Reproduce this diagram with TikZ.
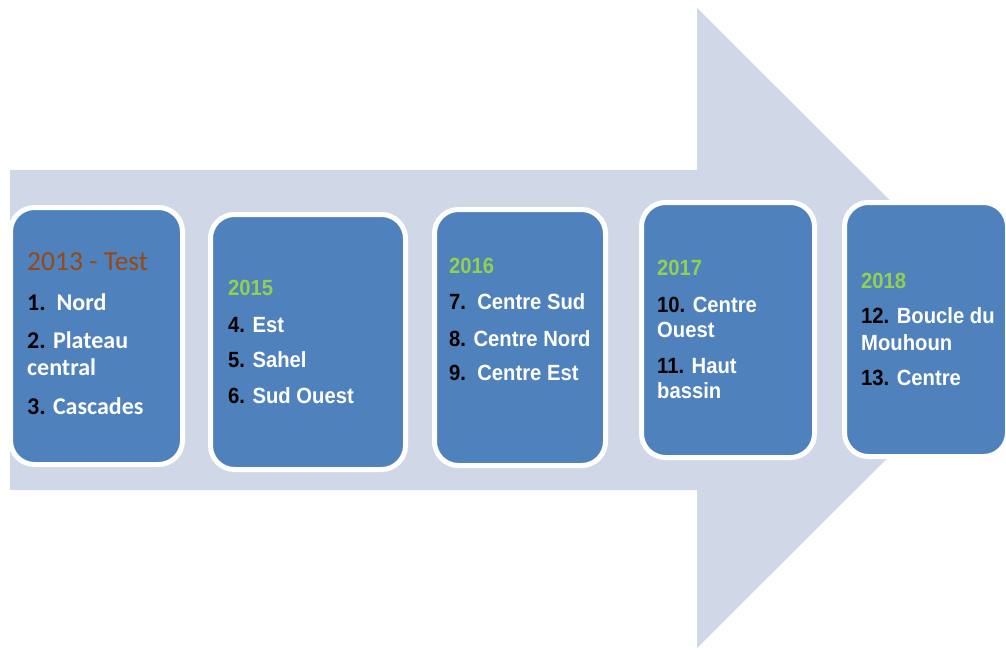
\documentclass[tikz,border=0pt]{standalone}
\usepackage{fontspec}
\newfontfamily\calfont{Carlito}
\newfontfamily\arfont[FakeStretch=0.92]{Liberation Sans}
\definecolor{arrowfill}{RGB}{208,216,232}
\definecolor{stageblue}{RGB}{79,129,189}
\definecolor{yeargreen}{RGB}{146,208,80}
\definecolor{testbrown}{RGB}{152,72,16}

\begin{document}
\begin{tikzpicture}
	[x=1pt, y=-1pt,
	stage/.style={rectangle, rounded corners=24pt, draw=white, line width=5pt, fill=stageblue, inner sep=0pt},
	item/.style={anchor=base west, inner sep=0pt, text=white, font=\arfont\bfseries\fontsize{22}{26}\selectfont},
	year/.style={item, text=yeargreen},
	firstItem/.style={item, font=\calfont\bfseries\fontsize{24}{28}\selectfont}]
	
	\useasboundingbox (0,0) rectangle (1006,649);
	\clip (0,0) rectangle (1006,649);
	
	% big arrow behind the stages
	\fill[arrowfill] (10,170) -- (697,170) -- (697,8) -- (1018,328) -- (697,648) -- (697,490) -- (10,490) -- cycle;
	
	% first stage 2013
	\node (s1) at ( 96.5,336 ) [stage, minimum width=172pt, minimum height=257pt] {};
	\node (t1a) at ( 27,270 ) [item, text=testbrown, font=\calfont\fontsize{27.5}{32}\selectfont] {2013 - Test};
	\node (t1b) at ( 27,310 ) [firstItem] {\textcolor{black}{1.}~~Nord};
	\node (t1c) at ( 27,348 ) [firstItem] {\textcolor{black}{2.} Plateau};
	\node (t1d) at ( 27,375 ) [firstItem] {central};
	\node (t1e) at ( 27,414 ) [firstItem] {\textcolor{black}{3.} Cascades};
	
	% second stage 2015
	\node (s2) at ( 308,342 ) [stage, minimum width=195pt, minimum height=255pt] {};
	\node (t2a) at ( 228,295 ) [year] {2015};
	\node (t2b) at ( 228,332 ) [item] {\textcolor{black}{4.} Est};
	\node (t2c) at ( 228,367 ) [item] {\textcolor{black}{5.} Sahel};
	\node (t2d) at ( 228,403 ) [item] {\textcolor{black}{6.} Sud Ouest};
	
	% third stage 2016
	\node (s3) at ( 520,337.5 ) [stage, minimum width=171pt, minimum height=256pt] {};
	\node (t3a) at ( 449,273 ) [year] {2016};
	\node (t3b) at ( 449,309 ) [item] {\textcolor{black}{7.}~~Centre Sud};
	\node (t3c) at ( 449,346 ) [item] {\textcolor{black}{8.} Centre Nord};
	\node (t3d) at ( 449,380 ) [item] {\textcolor{black}{9.}~~Centre Est};
	
	% fourth stage 2017
	\node (s4) at ( 728,330 ) [stage, minimum width=173pt, minimum height=255pt] {};
	\node (t4a) at ( 657,275 ) [year] {2017};
	\node (t4b) at ( 657,312 ) [item] {\textcolor{black}{10.} Centre};
	\node (t4c) at ( 657,337 ) [item] {Ouest};
	\node (t4d) at ( 657,373 ) [item] {\textcolor{black}{11.} Haut};
	\node (t4e) at ( 657,398 ) [item] {bassin};
	
	% fifth stage 2018
	\node (s5) at ( 926,329.5 ) [stage, minimum width=163pt, minimum height=254pt] {};
	\node (t5a) at ( 861,288 ) [year] {2018};
	\node (t5b) at ( 861,323 ) [item] {\textcolor{black}{12.} Boucle du};
	\node (t5c) at ( 861,350 ) [item] {Mouhoun};
	\node (t5d) at ( 861,385 ) [item] {\textcolor{black}{13.} Centre};

\end{tikzpicture}
\end{document}
